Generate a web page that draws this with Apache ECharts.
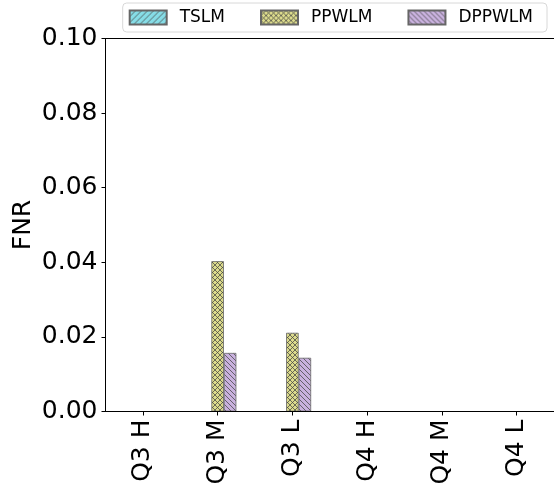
<!DOCTYPE html>
<html>
<head>
<meta charset="utf-8">
<script src="https://cdn.jsdelivr.net/npm/echarts@6/dist/echarts.min.js"></script>
<style>
  html, body { margin: 0; padding: 0; background: #fff; }
  #chart { width: 554px; height: 492px; }
</style>
</head>
<body>
<div id="chart"></div>
<script>
// Categories and FNR values per method
const categories = ['Q3 H', 'Q3 M', 'Q3 L', 'Q4 H', 'Q4 M', 'Q4 L'];
const tslm = [0, 0, 0, 0, 0, 0];
const ppwlm = [0, 0.0403, 0.0211, 0, 0, 0];
const dppwlm = [0, 0.0157, 0.0144, 0, 0, 0];
const yTicks = [0, 0.02, 0.04, 0.06, 0.08, 0.10];

// Build a repeating hatch fill: '/' forward, '\\' backward, 'x' cross
function hatch(bg, kind, size) {
  const c = document.createElement('canvas');
  c.width = size; c.height = size;
  const g = c.getContext('2d');
  g.fillStyle = bg;
  g.fillRect(0, 0, size, size);
  g.strokeStyle = 'rgba(70,70,70,0.85)';
  g.lineWidth = 0.9;
  const fwd = () => {
    for (const o of [-size, 0, size]) {
      g.beginPath(); g.moveTo(o, size); g.lineTo(o + size, 0); g.stroke();
    }
  };
  const back = () => {
    for (const o of [-size, 0, size]) {
      g.beginPath(); g.moveTo(o, 0); g.lineTo(o + size, size); g.stroke();
    }
  };
  if (kind === '/' || kind === 'x') fwd();
  if (kind === '\\' || kind === 'x') back();
  return { image: c, repeat: 'repeat' };
}

const fills = {
  TSLM: hatch('#86dde7', '/', 6),
  PPWLM: hatch('#dcdb8c', 'x', 5),
  DPPWLM: hatch('#c9b1de', '\\', 5)
};

function barSeries(name, values) {
  return {
    name: name,
    type: 'bar',
    z: 1,
    data: values,
    barWidth: 12.5,
    barGap: '0%',
    itemStyle: { color: fills[name], borderColor: '#666', borderWidth: 0.8 }
  };
}

const chart = echarts.init(document.getElementById('chart'), null, { renderer: 'canvas' });
const font = 'DejaVu Sans';
chart.setOption({
  animation: false,
  textStyle: { fontFamily: font },
  legend: {
    top: 3, right: 7,
    padding: [6, 14, 6, 6],
    icon: 'rect',
    itemWidth: 37, itemHeight: 14,
    itemGap: 35,
    borderColor: '#d8d8d8', borderWidth: 1, borderRadius: 4,
    backgroundColor: '#fff',
    textStyle: { fontFamily: font, fontSize: 17, color: '#000', padding: [0, 0, 0, 8] },
    data: ['TSLM', 'PPWLM', 'DPPWLM']
  },
  grid: { left: 105.5, right: -3, top: 38.5, bottom: 80.5, containLabel: false },
  xAxis: [{
    type: 'category',
    data: categories,
    z: 5,
    axisLine: { lineStyle: { color: '#000', width: 1 } },
    axisTick: { show: true, interval: 0, alignWithLabel: true, length: 4, lineStyle: { color: '#000' } },
    axisLabel: { interval: 0, rotate: 90, fontSize: 25, color: '#000', margin: 8, fontFamily: font }
  }, {
    type: 'category',
    data: categories,
    position: 'top',
    z: 5,
    axisLine: { lineStyle: { color: '#000', width: 1 } },
    axisTick: { show: false },
    axisLabel: { show: false }
  }],
  yAxis: {
    type: 'value',
    z: 5,
    min: yTicks[0], max: yTicks[yTicks.length - 1], interval: 0.02,
    name: 'FNR',
    nameLocation: 'middle',
    nameGap: 70,
    nameMoveOverlap: false,
    nameTextStyle: { fontSize: 25, color: '#000', fontFamily: font },
    splitLine: { show: false },
    axisLine: { show: true, lineStyle: { color: '#000', width: 1 } },
    axisTick: { show: true, length: 4, lineStyle: { color: '#000' } },
    axisLabel: { fontSize: 25, color: '#000', margin: 8, fontFamily: font,
      formatter: v => v.toFixed(2) }
  },
  series: [
    barSeries('TSLM', tslm),
    barSeries('PPWLM', ppwlm),
    barSeries('DPPWLM', dppwlm)
  ]
});
</script>
</body>
</html>
